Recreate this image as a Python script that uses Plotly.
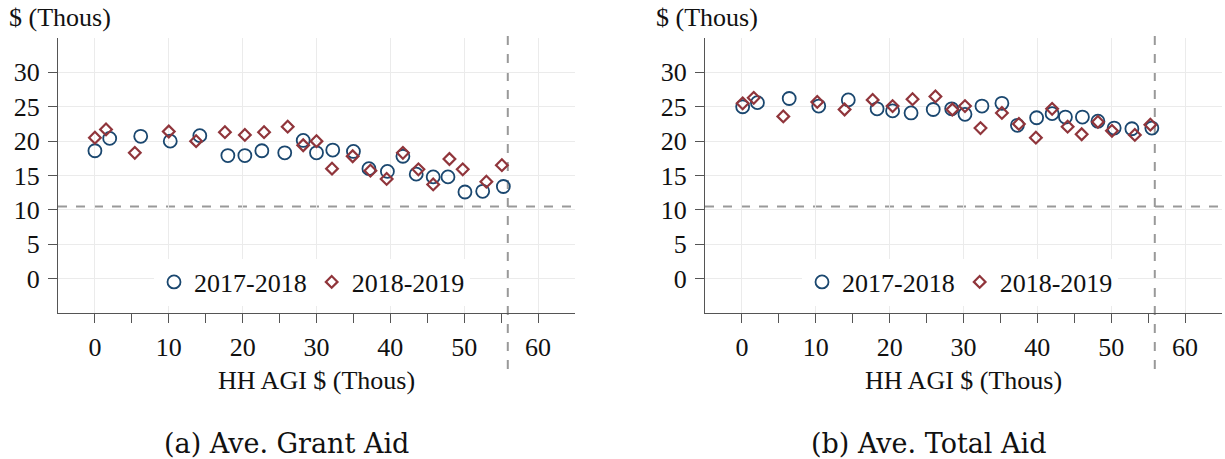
import plotly.graph_objects as go

# ---- data ----
grant_x_1718 = [0.0, 2.0, 6.2, 10.2, 14.2, 18.0, 20.3, 22.6, 25.7, 28.2, 30.0, 32.2, 35.0, 37.1, 39.6, 41.7, 43.5, 45.8, 47.8, 50.1, 52.5, 55.3]
grant_y_1718 = [18.6, 20.4, 20.7, 20.0, 20.8, 17.9, 17.9, 18.6, 18.3, 20.1, 18.3, 18.7, 18.5, 16.0, 15.6, 17.8, 15.2, 14.8, 14.8, 12.6, 12.7, 13.4]
grant_x_1819 = [0.0, 1.5, 5.4, 10.0, 13.7, 17.6, 20.3, 22.9, 26.1, 28.2, 30.0, 32.1, 34.9, 37.3, 39.5, 41.7, 43.8, 45.8, 48.0, 49.8, 53.0, 55.1]
grant_y_1819 = [20.5, 21.7, 18.3, 21.4, 20.0, 21.3, 20.9, 21.3, 22.1, 19.4, 20.0, 16.0, 17.8, 15.7, 14.5, 18.3, 15.9, 13.7, 17.4, 15.9, 14.1, 16.5]

total_x_1718 = [0.1, 2.1, 6.4, 10.4, 14.4, 18.3, 20.4, 22.9, 25.9, 28.4, 30.2, 32.5, 35.2, 37.3, 39.9, 42.0, 43.8, 46.1, 48.2, 50.4, 52.8, 55.5]
total_y_1718 = [25.0, 25.6, 26.2, 25.1, 26.0, 24.7, 24.4, 24.1, 24.6, 24.7, 23.9, 25.1, 25.5, 22.3, 23.4, 24.0, 23.5, 23.5, 22.9, 21.9, 21.8, 21.9]
total_x_1819 = [0.1, 1.6, 5.6, 10.2, 13.9, 17.7, 20.4, 23.1, 26.2, 28.5, 30.2, 32.3, 35.2, 37.5, 39.8, 42.0, 44.1, 46.0, 48.2, 50.1, 53.2, 55.3]
total_y_1819 = [25.5, 26.3, 23.6, 25.7, 24.6, 26.0, 25.1, 26.1, 26.5, 24.6, 25.1, 21.9, 24.1, 22.5, 20.5, 24.7, 22.1, 21.0, 22.8, 21.5, 20.9, 22.4]

series_names = ["2017-2018", "2018-2019"]
y_ticks = [0, 5, 10, 15, 20, 25, 30]
x_ticks = [0, 10, 20, 30, 40, 50, 60]
x_minor_ticks = [5, 15, 25, 35, 45, 55]
h_ref = 10.5
v_ref = 55.9
y_title = "$ (Thous)"
x_title = "HH AGI $ (Thous)"
captions = ["(a) Ave. Grant Aid", "(b) Ave. Total Aid"]

BLUE = "#1a476f"
RED = "#90353b"
SERIF = "Liberation Serif, Times New Roman, serif"
FS = 26

fig = go.Figure()

def add_pair(xa, ya, xb, yb, xaxis, yaxis, legend):
    fig.add_trace(go.Scatter(
        x=xa, y=ya, mode="markers", name=series_names[0],
        xaxis=xaxis, yaxis=yaxis, legend=legend,
        marker=dict(symbol="circle-open", size=13, color=BLUE, line=dict(width=1.8, color=BLUE)),
    ))
    fig.add_trace(go.Scatter(
        x=xb, y=yb, mode="markers", name=series_names[1],
        xaxis=xaxis, yaxis=yaxis, legend=legend,
        marker=dict(symbol="diamond-open", size=9, color=RED, line=dict(width=2.2, color=RED)),
    ))

add_pair(grant_x_1718, grant_y_1718, grant_x_1819, grant_y_1819, "x", "y", "legend")
add_pair(total_x_1718, total_y_1718, total_x_1819, total_y_1819, "x2", "y2", "legend2")

W, H = 1225, 459
ydom = [(H - 313) / H, (H - 38) / H]
axis_common = dict(
    showline=True, linecolor="#555", linewidth=1,
    showgrid=True, gridcolor="#ebebeb", gridwidth=1,
    zeroline=False, ticks="outside", ticklen=9, tickcolor="#555",
    tickfont=dict(family=SERIF, size=FS, color="#111"),
)
xaxis_common = dict(axis_common, range=[-5, 65], tickvals=x_ticks, ticklabelstandoff=2,
                    minor=dict(tickvals=x_minor_ticks, ticks="outside", ticklen=9, tickcolor="#555", showgrid=False))
yaxis_common = dict(axis_common, range=[-5, 35], tickvals=y_ticks, ticklabelstandoff=3)

legend_common = dict(orientation="h", y=(H - 282) / H, yanchor="middle", xanchor="center",
                     bgcolor="white", font=dict(family=SERIF, size=FS, color="#111"),
                     itemsizing="trace", tracegroupgap=0, itemwidth=30)

fig.update_layout(
    width=W, height=H,
    margin=dict(l=0, r=0, t=0, b=0),
    paper_bgcolor="white", plot_bgcolor="white",
    xaxis=dict(xaxis_common, domain=[58 / W, 575 / W], anchor="y"),
    yaxis=dict(yaxis_common, domain=ydom, anchor="x"),
    xaxis2=dict(xaxis_common, domain=[705 / W, 1222 / W], anchor="y2"),
    yaxis2=dict(yaxis_common, domain=ydom, anchor="x2"),
    legend=dict(legend_common, x=312 / W),
    legend2=dict(legend_common, x=960 / W),
    showlegend=True,
)

shapes = []
for xr, yr in (("x", "y"), ("x2", "y2")):
    shapes.append(dict(type="line", xref=xr + " domain", yref=yr, x0=0, x1=1, y0=h_ref, y1=h_ref,
                       line=dict(color="#999", width=2, dash="dash"), layer="below"))
    shapes.append(dict(type="line", xref=xr, yref="paper", x0=v_ref, x1=v_ref,
                       y0=(H - 369) / H, y1=(H - 36) / H,
                       line=dict(color="#999", width=2, dash="dash"), layer="below"))
fig.update_layout(shapes=shapes)

ann = []
for px in (7, 654):
    ann.append(dict(text=y_title, xref="paper", yref="paper", x=px / W, y=1 - 18 / H,
                    xanchor="left", yanchor="middle", showarrow=False,
                    font=dict(family=SERIF, size=FS, color="#111")))
for px in (316, 963):
    ann.append(dict(text=x_title, xref="paper", yref="paper", x=px / W, y=1 - 380 / H,
                    xanchor="center", yanchor="middle", showarrow=False,
                    font=dict(family=SERIF, size=FS, color="#111")))
for px, cap in zip((286, 929), captions):
    ann.append(dict(text=cap, xref="paper", yref="paper", x=px / W, y=1 - 443 / H,
                    xanchor="center", yanchor="middle", showarrow=False,
                    font=dict(family="DejaVu Serif, serif", size=27, color="#111")))
fig.update_layout(annotations=ann)

fig.write_html("out.html")
